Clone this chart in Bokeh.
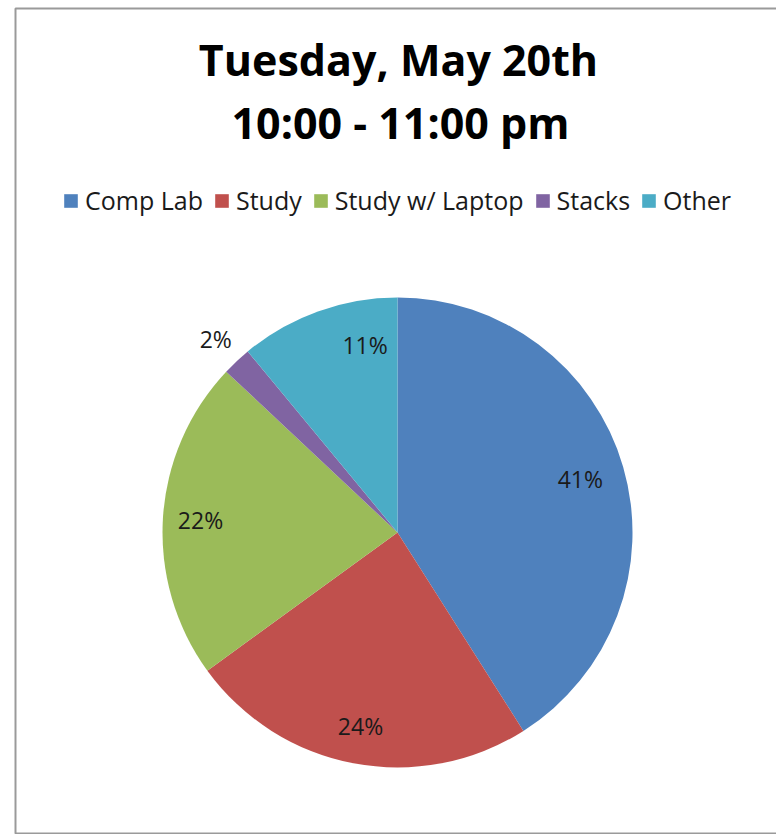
import math
from bokeh.plotting import figure
from bokeh.models import Range1d, Legend, LegendItem, ColumnDataSource
from bokeh.core.properties import value
from bokeh.embed import file_html
from bokeh.resources import INLINE

# --- data ---
categories = ["Comp Lab", "Study", "Study w/ Laptop", "Stacks", "Other"]
shares = [41, 24, 22, 2, 11]
colors = ["#4F81BD", "#C0504D", "#9BBB59", "#8064A2", "#4BACC6"]
title_lines = ["Tuesday, May 20th", "10:00 - 11:00 pm"]

# --- layout (pixel space, y measured from the top) ---
W, H = 776, 834
CX, CY, R = 397, 532, 235
label_radius = [0.81, 0.84, 0.84, 1.13, 0.81]
label_shift = [0, 0, 0, 0, 10]          # degrees, clockwise
FONT = "Open Sans"


def Y(y_top):
    return H - y_top


p = figure(width=W, height=H, x_range=Range1d(0, W), y_range=Range1d(0, H),
           output_backend="svg", toolbar_location=None,
           x_axis_location=None, y_axis_location=None,
           min_border=0, outline_line_color=None)
p.grid.visible = False
p.background_fill_color = "white"

# chart border
p.quad(left=15, right=W + 10, bottom=Y(833), top=Y(8),
       fill_color=None, line_color="#9a9a9a", line_width=2)

# pie wedges, clockwise from 12 o'clock
total = sum(shares)
starts, ends, mids = [], [], []
acc = 0.0
for s in shares:
    a0 = acc / total
    acc += s
    a1 = acc / total
    starts.append(math.pi / 2 - a1 * 2 * math.pi)
    ends.append(math.pi / 2 - a0 * 2 * math.pi)
    mids.append((a0 + a1) / 2 * 360)

src = ColumnDataSource(dict(cat=categories, val=shares, color=colors,
                            start=starts, end=ends))
wedges = p.wedge(x=CX, y=Y(CY), radius=R, start_angle="start", end_angle="end",
                 fill_color="color", line_color=None, source=src)

# percentage labels
lx, ly, lt = [], [], []
for s, m, f, sh in zip(shares, mids, label_radius, label_shift):
    ang = math.radians(m + sh)
    lx.append(CX + f * R * math.sin(ang))
    ly.append(Y(CY - f * R * math.cos(ang)))
    lt.append(f"{s}%")
p.text(x=lx, y=ly, text=lt, text_align="center", text_baseline="middle",
       text_font=value(FONT), text_font_size="23px", text_color="#1a1a1a")

# two-line title
p.text(x=[398, 400], y=[Y(59), Y(122)], text=title_lines,
       text_align="center", text_baseline="middle",
       text_font=value(FONT), text_font_style="bold",
       text_font_size="43px", text_color="black")

# legend
items = [LegendItem(label=c, renderers=[wedges], index=i)
         for i, c in enumerate(categories)]
legend = Legend(items=items, orientation="horizontal", location=(62, Y(217)),
                glyph_width=17, glyph_height=17, label_standoff=6, spacing=10,
                padding=0, margin=0, border_line_color=None,
                background_fill_alpha=0,
                label_text_font=FONT, label_text_font_size="25px",
                label_text_color="#1a1a1a")
p.add_layout(legend, "center")

open("out.html", "w").write(file_html(p, INLINE))
